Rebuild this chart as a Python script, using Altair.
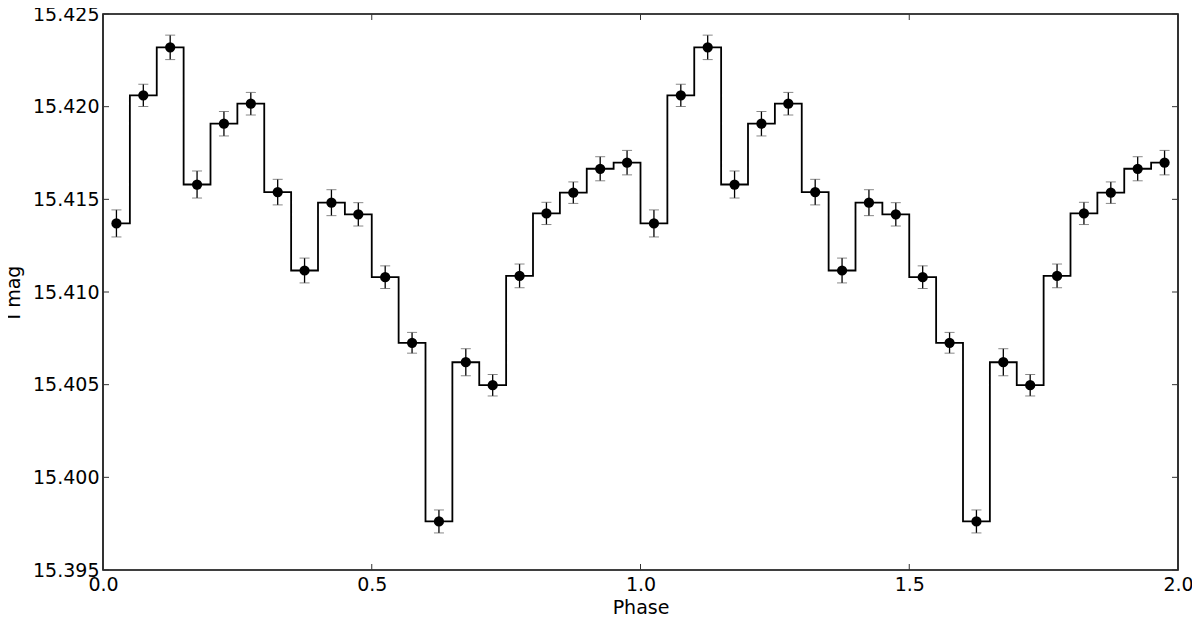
import altair as alt
import pandas as pd

# Binned phase-folded light curve (one cycle, repeated for phase 1-2)
phase_centers = [0.025, 0.075, 0.125, 0.175, 0.225, 0.275, 0.325, 0.375, 0.425, 0.475,
                 0.525, 0.575, 0.625, 0.675, 0.725, 0.775, 0.825, 0.875, 0.925, 0.975]
imag = [15.41370, 15.42061, 15.42320, 15.41580, 15.41908, 15.42016, 15.41539, 15.41116,
        15.41482, 15.41419, 15.41080, 15.40726, 15.39762, 15.40621, 15.40497, 15.41087,
        15.41424, 15.41536, 15.41665, 15.41698]
imag_err = [0.00073, 0.00060, 0.00066, 0.00073, 0.00066, 0.00061, 0.00069, 0.00067,
            0.00070, 0.00063, 0.00061, 0.00056, 0.00062, 0.00073, 0.00058, 0.00064,
            0.00060, 0.00058, 0.00065, 0.00066]
cycles = [0, 1]

x_ticks = [0.0, 0.5, 1.0, 1.5, 2.0]
y_ticks = [15.395, 15.400, 15.405, 15.410, 15.415, 15.420, 15.425]

rows = []
for c in cycles:
    for p, m, e in zip(phase_centers, imag, imag_err):
        rows.append({"phase": p + c, "mag": m, "lo": m - e, "hi": m + e})
df = pd.DataFrame(rows)

W, H = 1075, 556
FONT = "DejaVu Sans"
FS = 19
xscale = alt.Scale(domain=[0, 2], nice=False, zero=False)
yscale = alt.Scale(domain=[15.395, 15.425], nice=False, zero=False)
xaxis = alt.Axis(title="Phase", values=x_ticks, format=".1f", grid=False,
                 domain=False, ticks=False, labelFlush=False, labelOverlap=False,
                 labelPadding=5, titlePadding=4)
yaxis = alt.Axis(title="I mag", values=y_ticks, format=".3f", grid=False,
                 domain=False, ticks=False, labelFlush=False, labelOverlap=False,
                 labelPadding=4, titlePadding=9)


def X(f):
    return alt.X(f, scale=xscale, axis=xaxis)


def Y(f):
    return alt.Y(f, scale=yscale, axis=yaxis)


base = alt.Chart(df)

line = base.mark_line(interpolate="step", color="black", strokeWidth=1.8).encode(
    x=X("phase:Q"), y=Y("mag:Q"))
err = base.mark_rule(color="black", strokeWidth=1.3).encode(
    x=X("phase:Q"), y=Y("lo:Q"), y2="hi:Q")
cap_lo = base.mark_tick(color="#555555", thickness=1, size=10, orient="horizontal").encode(
    x=X("phase:Q"), y=Y("lo:Q"))
cap_hi = base.mark_tick(color="#555555", thickness=1, size=10, orient="horizontal").encode(
    x=X("phase:Q"), y=Y("hi:Q"))
pts = base.mark_circle(color="black", opacity=1, size=105).encode(
    x=X("phase:Q"), y=Y("mag:Q"))

xt = alt.Chart(pd.DataFrame({"v": x_ticks}))
yt = alt.Chart(pd.DataFrame({"v": y_ticks}))
tick_col = "#333333"
xt_bot = xt.mark_rule(color=tick_col, strokeWidth=1).encode(
    x=X("v:Q"), y=alt.value(H), y2=alt.value(H - 6))
xt_top = xt.mark_rule(color=tick_col, strokeWidth=1).encode(
    x=X("v:Q"), y=alt.value(0), y2=alt.value(6))
yt_left = yt.mark_rule(color=tick_col, strokeWidth=1).encode(
    y=Y("v:Q"), x=alt.value(0), x2=alt.value(6))
yt_right = yt.mark_rule(color=tick_col, strokeWidth=1).encode(
    y=Y("v:Q"), x=alt.value(W), x2=alt.value(W - 6))

chart = alt.layer(line, err, cap_lo, cap_hi, pts, xt_bot, xt_top, yt_left, yt_right).properties(
    width=W, height=H,
    autosize=alt.AutoSizeParams(type="none"),
    padding={"left": 95, "top": 6, "right": 14, "bottom": 44},
).configure_view(
    stroke="black", strokeWidth=1.6
).configure_axis(
    labelFont=FONT, titleFont=FONT, labelFontSize=FS, titleFontSize=FS,
    labelColor="black", titleColor="black", titleFontWeight="normal",
)

chart.save("out.html", embed_options={"renderer": "svg", "actions": False})
